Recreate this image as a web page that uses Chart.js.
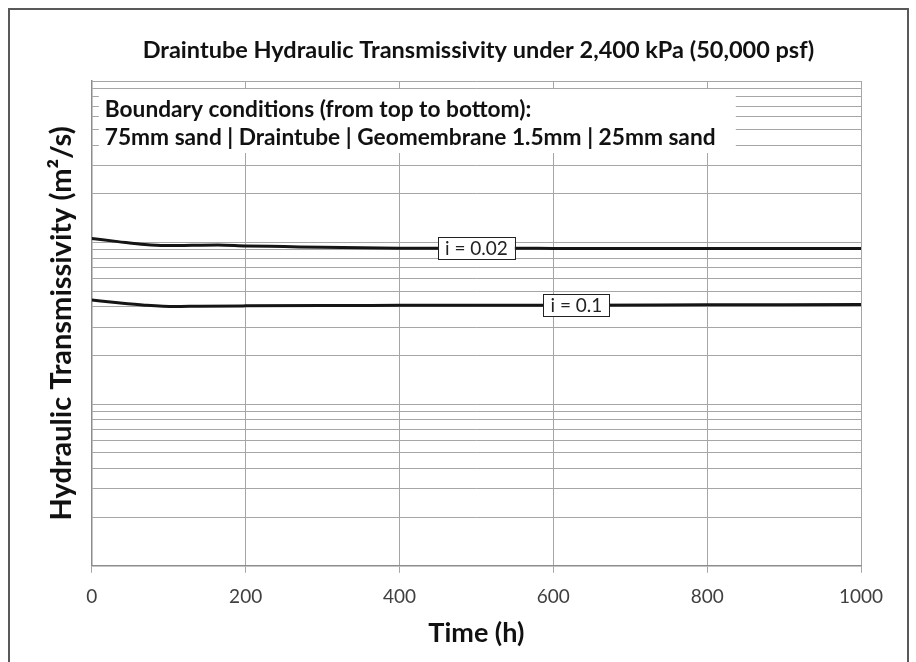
<!DOCTYPE html>
<html>
<head>
<meta charset="utf-8">
<script src="https://cdn.jsdelivr.net/npm/chart.js@4/dist/chart.umd.min.js"></script>
<style>
  html, body { margin: 0; padding: 0; background: #fff; }
  #wrap { width: 916px; height: 662px; position: relative; }
</style>
</head>
<body>
<div id="wrap"><canvas id="c"></canvas></div>
<script>
// time (h)
const timeLow = [0, 34, 69, 95, 130, 164, 200, 250, 300, 400, 500, 600, 700, 800, 900, 1000];
// i = 0.02, transmissivity m2/s (axis has no labels, decade placement is a guess)
const transLow = [1.059e-4, 1.014e-4, 9.72e-5, 9.58e-5, 9.62e-5, 9.67e-5, 9.54e-5, 9.45e-5, 9.35e-5, 9.24e-5, 9.22e-5, 9.21e-5, 9.21e-5, 9.20e-5, 9.19e-5, 9.18e-5];

const timeHigh = [0, 34, 69, 108, 140, 200, 300, 400, 500, 630, 800, 900, 1000];
// i = 0.1
const transHigh = [4.41e-5, 4.24e-5, 4.10e-5, 4.02e-5, 4.04e-5, 4.06e-5, 4.08e-5, 4.09e-5, 4.10e-5, 4.10e-5, 4.12e-5, 4.13e-5, 4.14e-5];

const seriesNames = ['i = 0.02', 'i = 0.1'];
const labelTimes = [500, 630];   // where the inline labels sit on each curve

// log grid: 1..9 in each decade
const ySignificands = [1, 2, 3, 4, 5, 6, 7, 8, 9];
const yDecades = [1e-6, 1e-5, 1e-4];
const yMin = 1e-6, yMax = 1e-3;
const xTicks = [0, 200, 400, 600, 800, 1000];

const titleText = 'Draintube Hydraulic Transmissivity under 2,400 kPa (50,000 psf)';
const noteLines = ['Boundary conditions (from top to bottom):',
                   '75mm sand | Draintube | Geomembrane 1.5mm | 25mm sand'];

const FONT = 'Lato, "Open Sans", sans-serif';

const yGrid = [];
yDecades.forEach(d => ySignificands.forEach(s => yGrid.push(s * d)));
yGrid.push(yMax);

const toPoints = (xs, ys) => xs.map((x, i) => ({ x, y: ys[i] }));

// title, frame, note box and inline series labels
const decorPlugin = {
    id: 'decor',
    beforeDatasetsDraw(chart) {
        const { ctx, chartArea: a } = chart;
        // white note box over the grid
        ctx.save();
        ctx.fillStyle = '#fff';
        ctx.fillRect(a.left + 7, a.top + 8, 637, 64);
        ctx.fillStyle = '#111';
        ctx.font = 'bold 22.7px ' + FONT;
        ctx.textBaseline = 'middle';
        ctx.textAlign = 'left';
        ctx.fillText(noteLines[0], a.left + 13, a.top + 29);
        ctx.fillText(noteLines[1], a.left + 13, a.top + 57);
        ctx.restore();
    },
    afterDatasetsDraw(chart) {
        const { ctx, chartArea: a } = chart;
        ctx.save();
        // series labels
        ctx.font = '19px ' + FONT;
        ctx.textAlign = 'center';
        ctx.textBaseline = 'middle';
        chart.data.datasets.forEach((ds, di) => {
            const idx = ds.data.findIndex(p => p.x === labelTimes[di]);
            const pt = chart.getDatasetMeta(di).data[idx];
            if (!pt) return;
            const w = ctx.measureText(seriesNames[di]).width + 14;
            const h = 22;
            ctx.fillStyle = '#fff';
            ctx.fillRect(pt.x - w / 2, pt.y - h / 2, w, h);
            ctx.strokeStyle = '#222';
            ctx.lineWidth = 1;
            ctx.strokeRect(Math.round(pt.x - w / 2) + 0.5, Math.round(pt.y - h / 2) + 0.5, Math.round(w), h);
            ctx.fillStyle = '#222';
            ctx.fillText(seriesNames[di], pt.x, pt.y + 1);
        });
        // chart title
        ctx.fillStyle = '#111';
        ctx.font = 'bold 23.5px ' + FONT;
        ctx.fillText(titleText, (a.left + a.right) / 2 + 2, 50);
        // outer frame
        ctx.strokeStyle = '#595959';
        ctx.lineWidth = 2;
        ctx.strokeRect(9, 9, 899, 680);
        ctx.restore();
    }
};

new Chart(document.getElementById('c'), {
    type: 'line',
    data: {
        datasets: [
            { label: seriesNames[0], data: toPoints(timeLow, transLow) },
            { label: seriesNames[1], data: toPoints(timeHigh, transHigh) },
        ],
    },
    options: {
        responsive: true,
        maintainAspectRatio: false,
        animation: false,
        layout: { padding: { left: 40, right: 55, top: 81, bottom: 9 } },
        elements: {
            line: { borderColor: '#151515', borderWidth: 3, tension: 0.4, cubicInterpolationMode: 'monotone' },
            point: { radius: 0 },
        },
        plugins: {
            legend: { display: false },
            tooltip: { enabled: false },
        },
        scales: {
            x: {
                type: 'linear',
                min: 0,
                max: 1000,
                afterBuildTicks: (s) => { s.ticks = xTicks.map(v => ({ value: v })); },
                ticks: {
                    color: '#404040', font: { family: FONT, size: 19 }, padding: 13, maxRotation: 0,
                    callback: (v) => String(v),
                },
                grid: { color: '#a6a6a6', tickLength: 7, tickColor: '#a6a6a6' },
                border: { color: '#8c8c8c', width: 1.5 },
                title: {
                    display: true, text: 'Time (h)', color: '#111',
                    font: { family: FONT, size: 27, weight: 'bold' },
                    padding: { top: -5, bottom: 4 },
                },
            },
            y: {
                type: 'logarithmic',
                min: yMin,
                max: yMax,
                afterBuildTicks: (s) => { s.ticks = yGrid.map(v => ({ value: v })); },
                ticks: { display: false },
                grid: { color: '#a6a6a6', drawTicks: false },
                border: { color: '#8c8c8c', width: 1.5 },
                title: {
                    display: true, text: 'Hydraulic Transmissivity (m²/s)', color: '#111',
                    font: { family: FONT, size: 29, weight: 'bold' },
                    padding: { top: 4, bottom: 13 },
                },
            },
        },
    },
    plugins: [decorPlugin],
});
</script>
</body>
</html>
